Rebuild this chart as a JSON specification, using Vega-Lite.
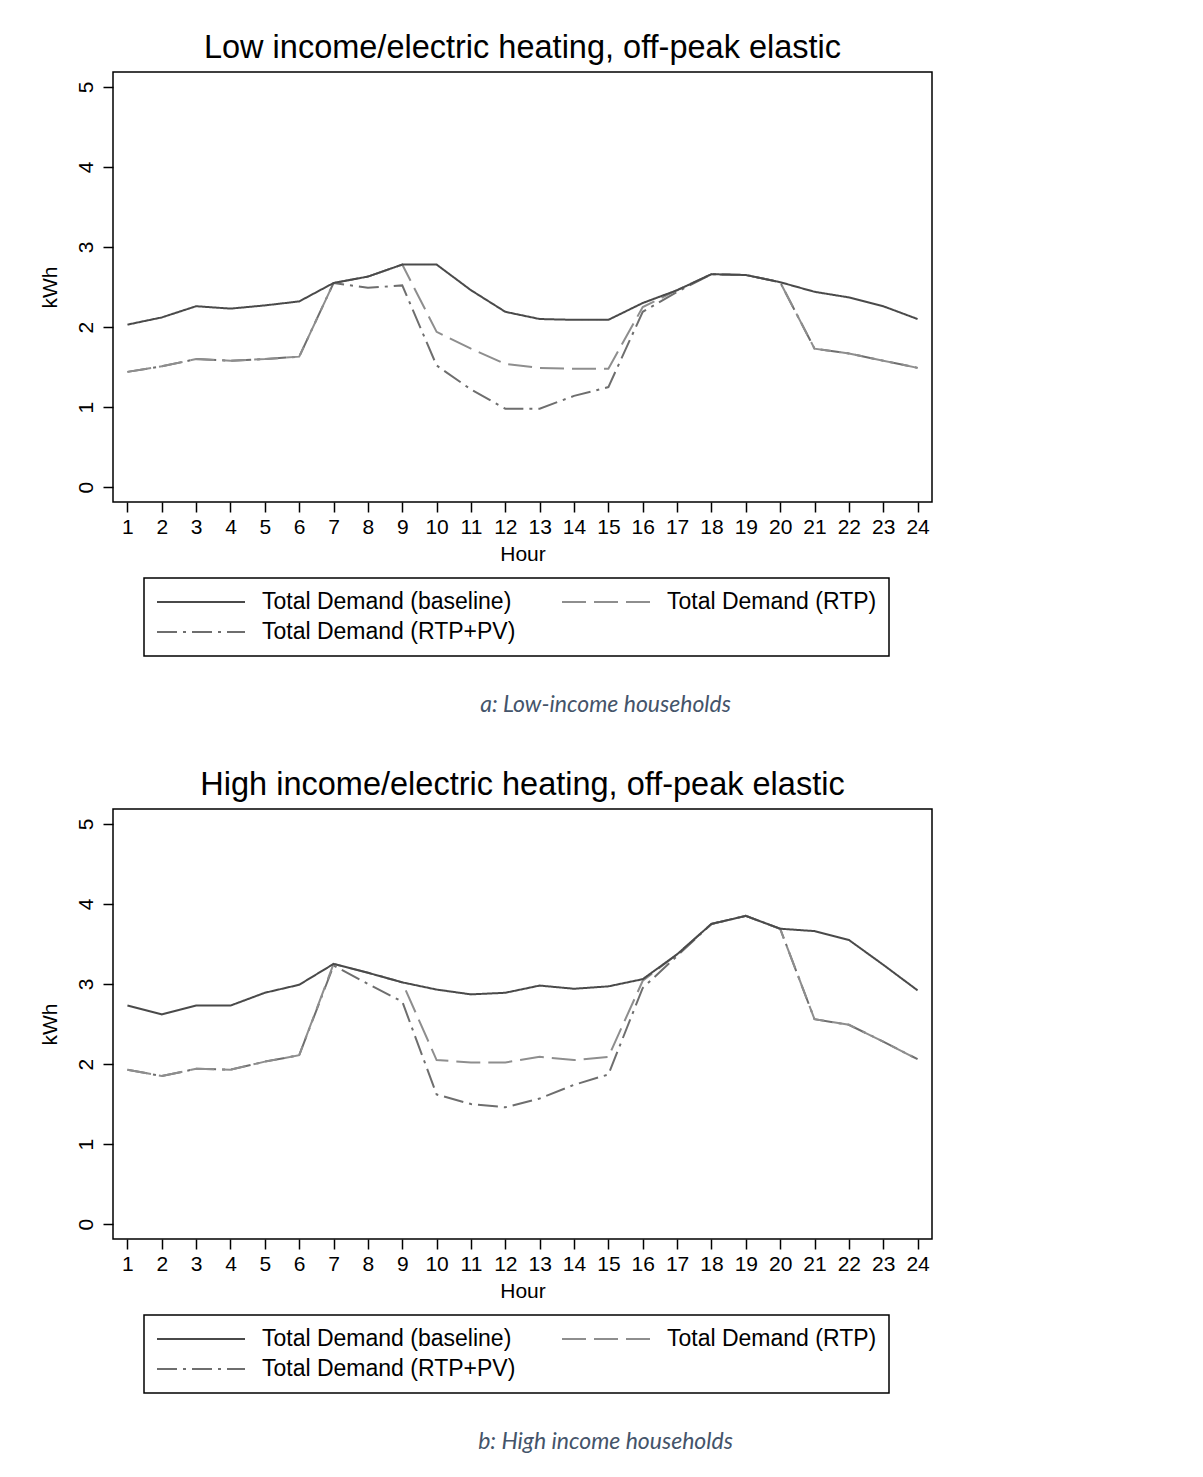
{
  "$schema": "https://vega.github.io/schema/vega-lite/v6.json",
  "background": "white",
  "padding": {"left": 38, "top": 30, "right": 5, "bottom": 5},
  "datasets": {
    "demand": [
      {"p":"a","h":1,"s":"Total Demand (RTP+PV)","v":1.44},{"p":"a","h":2,"s":"Total Demand (RTP+PV)","v":1.51},{"p":"a","h":3,"s":"Total Demand (RTP+PV)","v":1.60},{"p":"a","h":4,"s":"Total Demand (RTP+PV)","v":1.58},{"p":"a","h":5,"s":"Total Demand (RTP+PV)","v":1.60},{"p":"a","h":6,"s":"Total Demand (RTP+PV)","v":1.63},{"p":"a","h":7,"s":"Total Demand (RTP+PV)","v":2.55},{"p":"a","h":8,"s":"Total Demand (RTP+PV)","v":2.49},{"p":"a","h":9,"s":"Total Demand (RTP+PV)","v":2.52},{"p":"a","h":10,"s":"Total Demand (RTP+PV)","v":1.52},{"p":"a","h":11,"s":"Total Demand (RTP+PV)","v":1.22},{"p":"a","h":12,"s":"Total Demand (RTP+PV)","v":0.98},{"p":"a","h":13,"s":"Total Demand (RTP+PV)","v":0.98},{"p":"a","h":14,"s":"Total Demand (RTP+PV)","v":1.14},{"p":"a","h":15,"s":"Total Demand (RTP+PV)","v":1.25},{"p":"a","h":16,"s":"Total Demand (RTP+PV)","v":2.19},{"p":"a","h":17,"s":"Total Demand (RTP+PV)","v":2.44},{"p":"a","h":18,"s":"Total Demand (RTP+PV)","v":2.66},{"p":"a","h":19,"s":"Total Demand (RTP+PV)","v":2.65},{"p":"a","h":20,"s":"Total Demand (RTP+PV)","v":2.56},{"p":"a","h":21,"s":"Total Demand (RTP+PV)","v":1.73},{"p":"a","h":22,"s":"Total Demand (RTP+PV)","v":1.67},{"p":"a","h":23,"s":"Total Demand (RTP+PV)","v":1.58},{"p":"a","h":24,"s":"Total Demand (RTP+PV)","v":1.49},
      {"p":"a","h":1,"s":"Total Demand (RTP)","v":1.44},{"p":"a","h":2,"s":"Total Demand (RTP)","v":1.51},{"p":"a","h":3,"s":"Total Demand (RTP)","v":1.60},{"p":"a","h":4,"s":"Total Demand (RTP)","v":1.58},{"p":"a","h":5,"s":"Total Demand (RTP)","v":1.60},{"p":"a","h":6,"s":"Total Demand (RTP)","v":1.63},{"p":"a","h":7,"s":"Total Demand (RTP)","v":2.55},{"p":"a","h":8,"s":"Total Demand (RTP)","v":2.63},{"p":"a","h":9,"s":"Total Demand (RTP)","v":2.78},{"p":"a","h":10,"s":"Total Demand (RTP)","v":1.94},{"p":"a","h":11,"s":"Total Demand (RTP)","v":1.73},{"p":"a","h":12,"s":"Total Demand (RTP)","v":1.54},{"p":"a","h":13,"s":"Total Demand (RTP)","v":1.49},{"p":"a","h":14,"s":"Total Demand (RTP)","v":1.48},{"p":"a","h":15,"s":"Total Demand (RTP)","v":1.48},{"p":"a","h":16,"s":"Total Demand (RTP)","v":2.25},{"p":"a","h":17,"s":"Total Demand (RTP)","v":2.46},{"p":"a","h":18,"s":"Total Demand (RTP)","v":2.66},{"p":"a","h":19,"s":"Total Demand (RTP)","v":2.65},{"p":"a","h":20,"s":"Total Demand (RTP)","v":2.56},{"p":"a","h":21,"s":"Total Demand (RTP)","v":1.73},{"p":"a","h":22,"s":"Total Demand (RTP)","v":1.67},{"p":"a","h":23,"s":"Total Demand (RTP)","v":1.58},{"p":"a","h":24,"s":"Total Demand (RTP)","v":1.49},
      {"p":"a","h":1,"s":"Total Demand (baseline)","v":2.03},{"p":"a","h":2,"s":"Total Demand (baseline)","v":2.12},{"p":"a","h":3,"s":"Total Demand (baseline)","v":2.26},{"p":"a","h":4,"s":"Total Demand (baseline)","v":2.23},{"p":"a","h":5,"s":"Total Demand (baseline)","v":2.27},{"p":"a","h":6,"s":"Total Demand (baseline)","v":2.32},{"p":"a","h":7,"s":"Total Demand (baseline)","v":2.55},{"p":"a","h":8,"s":"Total Demand (baseline)","v":2.63},{"p":"a","h":9,"s":"Total Demand (baseline)","v":2.78},{"p":"a","h":10,"s":"Total Demand (baseline)","v":2.78},{"p":"a","h":11,"s":"Total Demand (baseline)","v":2.46},{"p":"a","h":12,"s":"Total Demand (baseline)","v":2.19},{"p":"a","h":13,"s":"Total Demand (baseline)","v":2.10},{"p":"a","h":14,"s":"Total Demand (baseline)","v":2.09},{"p":"a","h":15,"s":"Total Demand (baseline)","v":2.09},{"p":"a","h":16,"s":"Total Demand (baseline)","v":2.30},{"p":"a","h":17,"s":"Total Demand (baseline)","v":2.46},{"p":"a","h":18,"s":"Total Demand (baseline)","v":2.66},{"p":"a","h":19,"s":"Total Demand (baseline)","v":2.65},{"p":"a","h":20,"s":"Total Demand (baseline)","v":2.56},{"p":"a","h":21,"s":"Total Demand (baseline)","v":2.44},{"p":"a","h":22,"s":"Total Demand (baseline)","v":2.37},{"p":"a","h":23,"s":"Total Demand (baseline)","v":2.26},{"p":"a","h":24,"s":"Total Demand (baseline)","v":2.10},
      {"p":"b","h":1,"s":"Total Demand (RTP+PV)","v":1.93},{"p":"b","h":2,"s":"Total Demand (RTP+PV)","v":1.85},{"p":"b","h":3,"s":"Total Demand (RTP+PV)","v":1.94},{"p":"b","h":4,"s":"Total Demand (RTP+PV)","v":1.93},{"p":"b","h":5,"s":"Total Demand (RTP+PV)","v":2.03},{"p":"b","h":6,"s":"Total Demand (RTP+PV)","v":2.11},{"p":"b","h":7,"s":"Total Demand (RTP+PV)","v":3.23},{"p":"b","h":8,"s":"Total Demand (RTP+PV)","v":3.00},{"p":"b","h":9,"s":"Total Demand (RTP+PV)","v":2.78},{"p":"b","h":10,"s":"Total Demand (RTP+PV)","v":1.62},{"p":"b","h":11,"s":"Total Demand (RTP+PV)","v":1.50},{"p":"b","h":12,"s":"Total Demand (RTP+PV)","v":1.46},{"p":"b","h":13,"s":"Total Demand (RTP+PV)","v":1.57},{"p":"b","h":14,"s":"Total Demand (RTP+PV)","v":1.74},{"p":"b","h":15,"s":"Total Demand (RTP+PV)","v":1.87},{"p":"b","h":16,"s":"Total Demand (RTP+PV)","v":2.95},{"p":"b","h":17,"s":"Total Demand (RTP+PV)","v":3.35},{"p":"b","h":18,"s":"Total Demand (RTP+PV)","v":3.75},{"p":"b","h":19,"s":"Total Demand (RTP+PV)","v":3.85},{"p":"b","h":20,"s":"Total Demand (RTP+PV)","v":3.69},{"p":"b","h":21,"s":"Total Demand (RTP+PV)","v":2.56},{"p":"b","h":22,"s":"Total Demand (RTP+PV)","v":2.49},{"p":"b","h":23,"s":"Total Demand (RTP+PV)","v":2.28},{"p":"b","h":24,"s":"Total Demand (RTP+PV)","v":2.06},
      {"p":"b","h":1,"s":"Total Demand (RTP)","v":1.93},{"p":"b","h":2,"s":"Total Demand (RTP)","v":1.85},{"p":"b","h":3,"s":"Total Demand (RTP)","v":1.94},{"p":"b","h":4,"s":"Total Demand (RTP)","v":1.93},{"p":"b","h":5,"s":"Total Demand (RTP)","v":2.03},{"p":"b","h":6,"s":"Total Demand (RTP)","v":2.11},{"p":"b","h":7,"s":"Total Demand (RTP)","v":3.25},{"p":"b","h":8,"s":"Total Demand (RTP)","v":3.14},{"p":"b","h":9,"s":"Total Demand (RTP)","v":3.02},{"p":"b","h":10,"s":"Total Demand (RTP)","v":2.05},{"p":"b","h":11,"s":"Total Demand (RTP)","v":2.02},{"p":"b","h":12,"s":"Total Demand (RTP)","v":2.02},{"p":"b","h":13,"s":"Total Demand (RTP)","v":2.09},{"p":"b","h":14,"s":"Total Demand (RTP)","v":2.05},{"p":"b","h":15,"s":"Total Demand (RTP)","v":2.09},{"p":"b","h":16,"s":"Total Demand (RTP)","v":3.04},{"p":"b","h":17,"s":"Total Demand (RTP)","v":3.37},{"p":"b","h":18,"s":"Total Demand (RTP)","v":3.75},{"p":"b","h":19,"s":"Total Demand (RTP)","v":3.85},{"p":"b","h":20,"s":"Total Demand (RTP)","v":3.69},{"p":"b","h":21,"s":"Total Demand (RTP)","v":2.56},{"p":"b","h":22,"s":"Total Demand (RTP)","v":2.49},{"p":"b","h":23,"s":"Total Demand (RTP)","v":2.28},{"p":"b","h":24,"s":"Total Demand (RTP)","v":2.06},
      {"p":"b","h":1,"s":"Total Demand (baseline)","v":2.73},{"p":"b","h":2,"s":"Total Demand (baseline)","v":2.62},{"p":"b","h":3,"s":"Total Demand (baseline)","v":2.73},{"p":"b","h":4,"s":"Total Demand (baseline)","v":2.73},{"p":"b","h":5,"s":"Total Demand (baseline)","v":2.89},{"p":"b","h":6,"s":"Total Demand (baseline)","v":2.99},{"p":"b","h":7,"s":"Total Demand (baseline)","v":3.25},{"p":"b","h":8,"s":"Total Demand (baseline)","v":3.14},{"p":"b","h":9,"s":"Total Demand (baseline)","v":3.02},{"p":"b","h":10,"s":"Total Demand (baseline)","v":2.93},{"p":"b","h":11,"s":"Total Demand (baseline)","v":2.87},{"p":"b","h":12,"s":"Total Demand (baseline)","v":2.89},{"p":"b","h":13,"s":"Total Demand (baseline)","v":2.98},{"p":"b","h":14,"s":"Total Demand (baseline)","v":2.94},{"p":"b","h":15,"s":"Total Demand (baseline)","v":2.97},{"p":"b","h":16,"s":"Total Demand (baseline)","v":3.06},{"p":"b","h":17,"s":"Total Demand (baseline)","v":3.37},{"p":"b","h":18,"s":"Total Demand (baseline)","v":3.75},{"p":"b","h":19,"s":"Total Demand (baseline)","v":3.85},{"p":"b","h":20,"s":"Total Demand (baseline)","v":3.69},{"p":"b","h":21,"s":"Total Demand (baseline)","v":3.66},{"p":"b","h":22,"s":"Total Demand (baseline)","v":3.55},{"p":"b","h":23,"s":"Total Demand (baseline)","v":3.24},{"p":"b","h":24,"s":"Total Demand (baseline)","v":2.92}
    ]
  },
  "spacing": 50,
  "vconcat": [
    {
      "title": {"text": "a: Low-income households", "orient": "bottom", "anchor": "middle", "frame": "bounds", "offset": 37, "dx": 120, "font": "Lato", "fontStyle": "italic", "fontWeight": "normal", "fontSize": 23, "color": "#44546A"},
      "vconcat": [
        {
          "width": 819, "height": 430,
          "title": {"text": "Low income/electric heating, off-peak elastic", "anchor": "middle", "frame": "group", "baseline": "alphabetic", "offset": -18},
          "data": {"name": "demand"},
          "transform": [{"filter": "datum.p === 'a'"}],
          "mark": {"type": "line", "strokeWidth": 2},
          "encoding": {
            "x": {"field": "h", "type": "quantitative", "title": "Hour", "scale": {"domain": [0.58, 24.42], "nice": false, "zero": false}, "axis": {"values": [1,2,3,4,5,6,7,8,9,10,11,12,13,14,15,16,17,18,19,20,21,22,23,24]}},
            "y": {"field": "v", "type": "quantitative", "title": "kWh", "scale": {"domain": [-0.185, 5.185], "nice": false, "zero": false}, "axis": {"values": [0,1,2,3,4,5]}},
            "color": {"field": "s", "type": "nominal", "sort": null, "scale": {"domain": ["Total Demand (baseline)", "Total Demand (RTP)", "Total Demand (RTP+PV)"], "range": ["#4a4a4a", "#8e8e8e", "#6e6e6e"]}, "legend": {"title": null}},
            "strokeDash": {"field": "s", "type": "nominal", "sort": null, "scale": {"domain": ["Total Demand (baseline)", "Total Demand (RTP)", "Total Demand (RTP+PV)"], "range": [[1, 0], [24, 8], [20, 6, 3, 6]]}, "legend": {"title": null}}
          }
        }
      ]
    },
    {
      "title": {"text": "b: High income households", "orient": "bottom", "anchor": "middle", "frame": "bounds", "offset": 37, "dx": 120, "font": "Lato", "fontStyle": "italic", "fontWeight": "normal", "fontSize": 23, "color": "#44546A"},
      "vconcat": [
        {
          "width": 819, "height": 430,
          "title": {"text": "High income/electric heating, off-peak elastic", "anchor": "middle", "frame": "group", "baseline": "alphabetic", "offset": -18},
          "data": {"name": "demand"},
          "transform": [{"filter": "datum.p === 'b'"}],
          "mark": {"type": "line", "strokeWidth": 2},
          "encoding": {
            "x": {"field": "h", "type": "quantitative", "title": "Hour", "scale": {"domain": [0.58, 24.42], "nice": false, "zero": false}, "axis": {"values": [1,2,3,4,5,6,7,8,9,10,11,12,13,14,15,16,17,18,19,20,21,22,23,24]}},
            "y": {"field": "v", "type": "quantitative", "title": "kWh", "scale": {"domain": [-0.185, 5.185], "nice": false, "zero": false}, "axis": {"values": [0,1,2,3,4,5]}},
            "color": {"field": "s", "type": "nominal", "sort": null, "scale": {"domain": ["Total Demand (baseline)", "Total Demand (RTP)", "Total Demand (RTP+PV)"], "range": ["#4a4a4a", "#8e8e8e", "#6e6e6e"]}, "legend": {"title": null}},
            "strokeDash": {"field": "s", "type": "nominal", "sort": null, "scale": {"domain": ["Total Demand (baseline)", "Total Demand (RTP)", "Total Demand (RTP+PV)"], "range": [[1, 0], [24, 8], [20, 6, 3, 6]]}, "legend": {"title": null}}
          }
        }
      ]
    }
  ],
  "resolve": {"scale": {"color": "independent", "strokeDash": "independent"}},
  "config": {
    "font": "Liberation Sans",
    "view": {"stroke": "black", "strokeWidth": 1.5},
    "title": {"font": "Liberation Sans", "fontSize": 32.5, "fontWeight": "normal", "color": "black"},
    "axis": {
      "domain": false, "grid": false,
      "tickColor": "black", "tickSize": 10, "tickWidth": 1.5,
      "labelFont": "Liberation Sans", "labelFontSize": 21, "labelColor": "black",
      "titleFont": "Liberation Sans", "titleFontSize": 21, "titleFontWeight": "normal", "titleColor": "black"
    },
    "axisX": {"labelPadding": 4, "titlePadding": 6, "labelFlush": false, "labelOverlap": false},
    "axisY": {"labelAngle": -90, "labelAlign": "center", "labelBaseline": "alphabetic", "labelPadding": 11, "titlePadding": 15, "labelFlush": false},
    "legend": {
      "orient": "none", "legendX": 31, "legendY": 506, "direction": "horizontal", "columns": 2,
      "gridAlign": "each", "columnPadding": 42, "rowPadding": 6, "padding": 12,
      "strokeColor": "black", "fillColor": "white", "strokeWidth": 1.5,
      "symbolType": "M-1,0H7", "symbolSize": 484, "symbolStrokeWidth": 2, "symbolOffset": 0,
      "labelFont": "Liberation Sans", "labelFontSize": 23, "labelColor": "black", "labelOffset": 82, "labelLimit": 400
    }
  }
}
